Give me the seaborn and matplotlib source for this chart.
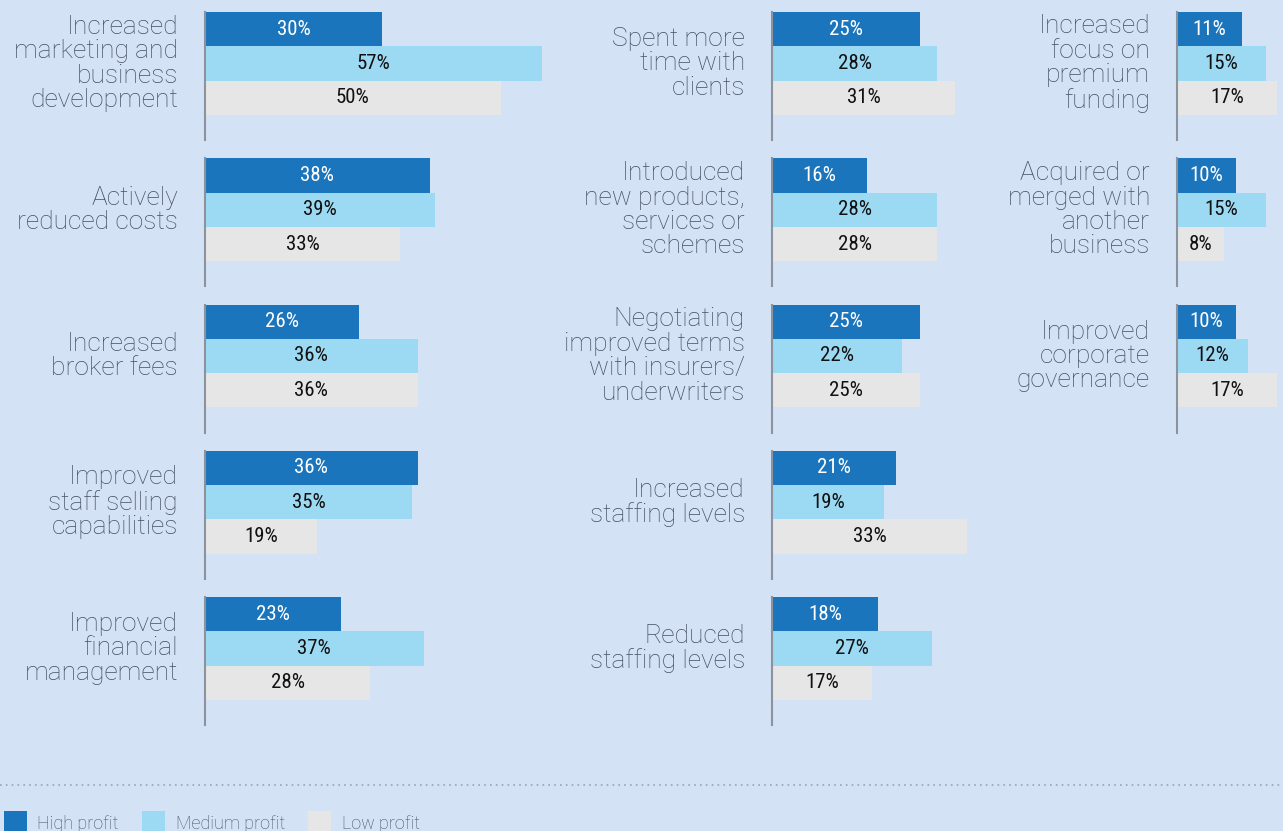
import matplotlib
matplotlib.use("Agg")
import matplotlib.pyplot as plt
from matplotlib.lines import Line2D
from matplotlib.patches import Patch
import seaborn as sns
import pandas as pd

# ---- data -------------------------------------------------------------
profit_levels = ["High profit", "Medium profit", "Low profit"]

col1_actions = [
    "Increased\nmarketing and\nbusiness\ndevelopment",
    "Actively\nreduced costs",
    "Increased\nbroker fees",
    "Improved\nstaff selling\ncapabilities",
    "Improved\nfinancial\nmanagement",
]
col1_high = [30, 38, 26, 36, 23]
col1_medium = [57, 39, 36, 35, 37]
col1_low = [50, 33, 36, 19, 28]

col2_actions = [
    "Spent more\ntime with\nclients",
    "Introduced\nnew products,\nservices or\nschemes",
    "Negotiating\nimproved terms\nwith insurers/\nunderwriters",
    "Increased\nstaffing levels",
    "Reduced\nstaffing levels",
]
col2_high = [25, 16, 25, 21, 18]
col2_medium = [28, 28, 22, 19, 27]
col2_low = [31, 28, 25, 33, 17]

col3_actions = [
    "Increased\nfocus on\npremium\nfunding",
    "Acquired or\nmerged with\nanother\nbusiness",
    "Improved\ncorporate\ngovernance",
]
col3_high = [11, 10, 10]
col3_medium = [15, 15, 12]
col3_low = [17, 8, 17]

# ---- style ------------------------------------------------------------
BG = "#d3e2f4"
PALETTE = {"High profit": "#1b75bc", "Medium profit": "#9cd9f2", "Low profit": "#e6e6e6"}
VALUE_COLORS = {"High profit": "white", "Medium profit": "#111111", "Low profit": "#111111"}
LABEL_COLOR = "#455163"
AXIS_COLOR = "#8c939c"

sns.set_theme(style="white")
plt.rcParams["font.family"] = ["Roboto", "DejaVu Sans"]

W, H = 1283, 831
fig = plt.figure(figsize=(W / 100, H / 100), dpi=100, facecolor=BG)

PX_PER_PCT = 5.91          # horizontal scale shared by all panels
BAR_PX = 34.33             # thickness of one bar
PANEL_H = 128              # height of each panel's axis line
ROW_STEP = 146.25
FIRST_TOP = 12

columns = [
    dict(x=205, width=350, actions=col1_actions, high=col1_high, medium=col1_medium, low=col1_low),
    dict(x=772, width=230, actions=col2_actions, high=col2_high, medium=col2_medium, low=col2_low),
    dict(x=1177, width=106, actions=col3_actions, high=col3_high, medium=col3_medium, low=col3_low),
]

label_font = dict(family=["Roboto", "DejaVu Sans"], weight="light", size=19, color=LABEL_COLOR)
value_font = dict(family=["Liberation Sans Narrow", "Roboto Condensed", "Roboto", "DejaVu Sans"],
                  weight="normal", size=15)

for col in columns:
    for r, action in enumerate(col["actions"]):
        top = FIRST_TOP + r * ROW_STEP
        ax = fig.add_axes([col["x"] / W, 1 - (top + PANEL_H) / H, col["width"] / W, PANEL_H / H])
        ax.set_facecolor("none")
        df = pd.DataFrame({
            "profit": profit_levels,
            "value": [col["high"][r], col["medium"][r], col["low"][r]],
        })
        sns.barplot(data=df, x="value", y="profit", hue="profit", order=profit_levels,
                    hue_order=profit_levels, palette=PALETTE, width=1.0, orient="h",
                    legend=False, saturation=1, linewidth=0, ax=ax)
        ax.set_xlim(0, col["width"] / PX_PER_PCT)
        ax.set_ylim(-0.5 + PANEL_H / BAR_PX, -0.5)
        ax.set_xlabel("")
        ax.set_ylabel("")
        ax.set_xticks([])
        ax.set_yticks([])
        for side in ("top", "right", "bottom"):
            ax.spines[side].set_visible(False)
        ax.spines["left"].set_color(AXIS_COLOR)
        ax.spines["left"].set_linewidth(1.5)

        for level, container in zip(profit_levels, ax.containers):
            ax.bar_label(container, fmt="%g%%", label_type="center",
                         color=VALUE_COLORS[level], **value_font)

        # action name, right-aligned against the axis, centred on the bar block
        block_mid = 1.0  # middle of the three bars in data units
        ax.annotate(action, xy=(0, block_mid), xycoords=("axes fraction", "data"),
                    xytext=(-27, 0), textcoords="offset pixels",
                    ha="right", va="center", multialignment="right",
                    linespacing=1.02, annotation_clip=False, **label_font)

# dotted separator above the legend
fig.add_artist(Line2D([0, 1], [1 - 785 / H, 1 - 785 / H], transform=fig.transFigure,
                      color="#9aa3ad", linewidth=1.2, linestyle=(0, (1, 2.5))))

handles = [Patch(facecolor=PALETTE[l], edgecolor="none", label=l) for l in profit_levels]
leg = fig.legend(handles=handles, loc="upper left", bbox_to_anchor=(4 / W, 1 - 811 / H),
                 ncol=3, frameon=False, borderpad=0, borderaxespad=0,
                 handlelength=1.25, handleheight=1.6, handletextpad=0.6,
                 columnspacing=1.3, prop=dict(family=["Roboto", "DejaVu Sans"], weight="light", size=13))
for t in leg.get_texts():
    t.set_color(LABEL_COLOR)

fig.savefig("out.png", dpi=100, facecolor=BG)
